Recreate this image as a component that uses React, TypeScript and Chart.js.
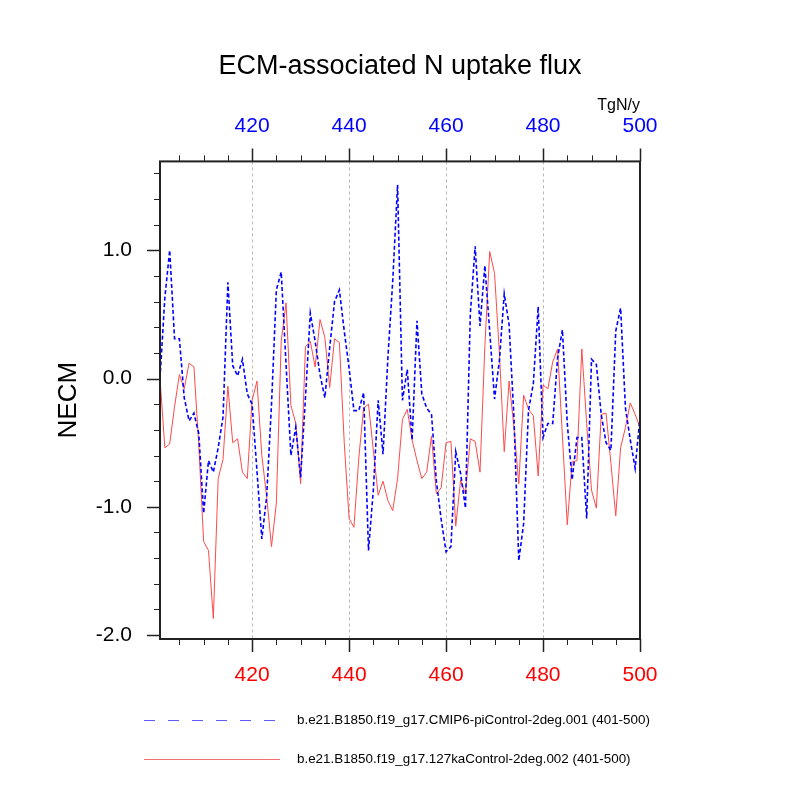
import React, { useEffect, useRef } from "react";
import { Chart, registerables } from "chart.js";

Chart.register(...registerables);

// ---------------- data ----------------
const years = [
  401, 402, 403, 404, 405, 406, 407, 408, 409, 410,
  411, 412, 413, 414, 415, 416, 417, 418, 419, 420,
  421, 422, 423, 424, 425, 426, 427, 428, 429, 430,
  431, 432, 433, 434, 435, 436, 437, 438, 439, 440,
  441, 442, 443, 444, 445, 446, 447, 448, 449, 450,
  451, 452, 453, 454, 455, 456, 457, 458, 459, 460,
  461, 462, 463, 464, 465, 466, 467, 468, 469, 470,
  471, 472, 473, 474, 475, 476, 477, 478, 479, 480,
  481, 482, 483, 484, 485, 486, 487, 488, 489, 490,
  491, 492, 493, 494, 495, 496, 497, 498, 499, 500,
];

const piControl = [
  0.0, 0.63, 1.0, 0.31, 0.31, -0.15, -0.33, -0.27, -0.43, -1.05,
  -0.64, -0.73, -0.54, -0.3, 0.75, 0.1, 0.02, 0.15, -0.12, -0.2,
  -0.72, -1.25, -0.92, -0.2, 0.69, 0.83, 0.11, -0.6, -0.38, -0.77,
  -0.15, 0.51, 0.29, 0.03, -0.15, 0.24, 0.6, 0.69, 0.37, 0.08,
  -0.25, -0.25, -0.11, -1.34, -0.87, -0.17, -0.59, 0.16, 0.76, 1.51,
  -0.17, 0.07, -0.48, 0.45, -0.12, -0.23, -0.28, -0.8, -1.1, -1.35,
  -1.31, -0.57, -0.74, -1.01, 0.5, 1.03, 0.41, 0.88, 0.37, -0.16,
  0.14, 0.66, 0.42, -0.3, -1.42, -1.13, -0.25, -0.04, 0.56, -0.46,
  -0.35, -0.35, 0.16, 0.38, -0.35, -0.79, -0.46, -0.46, -1.09, 0.15,
  0.11, -0.28, -0.5, -0.56, 0.37, 0.55, -0.23, -0.48, -0.7, -0.3,
];

const ka127Control = [
  0.0, -0.54, -0.51, -0.22, 0.03, -0.08, 0.12, 0.09, -0.52, -1.27,
  -1.34, -1.87, -0.78, -0.63, -0.06, -0.5, -0.47, -0.73, -0.78, -0.17,
  -0.02, -0.6, -0.92, -1.31, -0.97, 0.29, 0.59, -0.21, -0.35, -0.82,
  0.25, 0.29, 0.09, 0.46, 0.32, -0.07, 0.31, 0.28, -0.5, -1.09,
  -1.16, -0.62, -0.23, -0.2, -0.56, -0.91, -0.8, -0.95, -1.03, -0.78,
  -0.32, -0.24, -0.48, -0.64, -0.78, -0.73, -0.45, -0.9, -0.85, -0.5,
  -0.49, -1.15, -0.79, -0.9, -0.47, -0.49, -0.73, 0.25, 0.99, 0.82,
  0.2, -0.57, -0.02, -0.38, -0.82, -0.13, -0.24, -0.29, -0.76, -0.05,
  -0.08, 0.13, 0.23, -0.45, -1.14, -0.65, -0.64, 0.23, -0.35, -0.87,
  -1.01, -0.28, -0.27, -0.66, -1.07, -0.54, -0.38, -0.19, -0.28, -0.38,
];

const seriesLabels = [
  "b.e21.B1850.f19_g17.CMIP6-piControl-2deg.001 (401-500)",
  "b.e21.B1850.f19_g17.127kaControl-2deg.002 (401-500)",
];

const xMajorTicks = [420, 440, 460, 480, 500];
const xMinorTicks = [
  405, 410, 415, 420, 425, 430, 435, 440, 445, 450,
  455, 460, 465, 470, 475, 480, 485, 490, 495, 500,
];
const xGridLines = [420, 440, 460, 480];
const yMajorTicks = [-2.0, -1.0, 0.0, 1.0];
const yMinorTicks = [
  -2.0, -1.8, -1.6, -1.4, -1.2, -1.0, -0.8, -0.6, -0.4, -0.2,
  0.0, 0.2, 0.4, 0.6, 0.8, 1.0, 1.2, 1.4, 1.6,
];

const titleText = "ECM-associated N uptake flux";
const yTitle = "NECM";
const unitsText = "TgN/y";

// ---------------- styling ----------------
const FONT = "'Liberation Sans', Arial, Helvetica, sans-serif";
const BLUE = "#0000ff";
const RED = "#ff4a4a";

const nclDecor = {
  id: "nclDecor",
  beforeDatasetsDraw(chart: any) {
    const { ctx, chartArea } = chart;
    const xs = chart.scales.x;
    ctx.save();
    ctx.strokeStyle = "#b8b8b8";
    ctx.lineWidth = 1;
    ctx.setLineDash([3, 3]);
    for (const v of xGridLines) {
      const px = Math.round(xs.getPixelForValue(v)) + 0.5;
      ctx.beginPath();
      ctx.moveTo(px, chartArea.top);
      ctx.lineTo(px, chartArea.bottom);
      ctx.stroke();
    }
    ctx.restore();
  },
  afterDatasetsDraw(chart: any) {
    const { ctx, chartArea } = chart;
    const { left, right, top, bottom } = chartArea;
    const xs = chart.scales.x;
    const ys = chart.scales.y;
    ctx.save();
    ctx.strokeStyle = "#222";
    ctx.setLineDash([]);
    for (const v of xMinorTicks) {
      const major = xMajorTicks.includes(v);
      const len = major ? 13 : 6;
      const px = Math.round(xs.getPixelForValue(v)) + 0.5;
      ctx.lineWidth = major ? 1.5 : 1;
      ctx.beginPath();
      ctx.moveTo(px, top);
      ctx.lineTo(px, top - len);
      ctx.moveTo(px, bottom);
      ctx.lineTo(px, bottom + len);
      ctx.stroke();
    }
    for (const v of yMinorTicks) {
      const major = yMajorTicks.some((m) => Math.abs(m - v) < 1e-6);
      const len = major ? 13 : 6;
      const py = Math.round(ys.getPixelForValue(v)) + 0.5;
      ctx.lineWidth = major ? 1.5 : 1;
      ctx.beginPath();
      ctx.moveTo(left, py);
      ctx.lineTo(left - len, py);
      ctx.stroke();
    }
    ctx.lineWidth = 2;
    ctx.strokeRect(left, top, right - left, bottom - top);
    ctx.restore();
  },
  afterDraw(chart: any) {
    const { ctx } = chart;
    const rows = [
      { y: 720.5, x0: 144, x1: 276, dash: [11, 13], color: "#5c5cff" },
      { y: 759.5, x0: 144, x1: 280, dash: [], color: "#f07070" },
    ];
    ctx.save();
    chart.data.datasets.forEach((ds: any, i: number) => {
      const r = rows[i];
      ctx.strokeStyle = r.color;
      ctx.lineWidth = 1;
      ctx.setLineDash(r.dash);
      ctx.beginPath();
      ctx.moveTo(r.x0, r.y);
      ctx.lineTo(r.x1, r.y);
      ctx.stroke();
      ctx.setLineDash([]);
      ctx.fillStyle = "#000";
      ctx.font = `13.4px ${FONT}`;
      ctx.textBaseline = "middle";
      ctx.textAlign = "left";
      ctx.fillText(ds.label, 297, r.y);
    });
    ctx.restore();
  },
};

export default function App() {
  const canvasRef = useRef<HTMLCanvasElement | null>(null);

  useEffect(() => {
    if (!canvasRef.current) return;
    const chart = new Chart(canvasRef.current, {
      type: "line",
      data: {
        labels: years,
        datasets: [
          {
            label: seriesLabels[0],
            data: piControl,
            borderColor: BLUE,
            borderWidth: 1.6,
            borderDash: [4, 2.5],
            pointRadius: 0,
            fill: false,
            tension: 0,
          },
          {
            label: seriesLabels[1],
            data: ka127Control,
            borderColor: RED,
            borderWidth: 1,
            pointRadius: 0,
            fill: false,
            tension: 0,
          },
        ],
      },
      options: {
        animation: false,
        responsive: false,
        devicePixelRatio: 1,
        layout: { padding: 0 },
        plugins: {
          legend: { display: false },
          tooltip: { enabled: false },
          title: {
            display: true,
            text: titleText,
            color: "#000",
            font: { family: FONT, size: 27, weight: "normal" as any, lineHeight: 1.2 },
            padding: { top: 50, bottom: 0 },
          },
        },
        scales: {
          x: {
            type: "linear",
            position: "bottom",
            min: 401,
            max: 500,
            grid: { display: false, drawTicks: false },
            border: { display: false },
            afterBuildTicks: (s: any) => {
              s.ticks = xMajorTicks.map((v) => ({ value: v }));
            },
            afterFit: (s: any) => {
              s.height = 161;
            },
            ticks: {
              color: "#ff0000",
              font: { family: FONT, size: 21 },
              padding: 24,
              maxRotation: 0,
              autoSkip: false,
              callback: (v: any) => String(v),
            },
          },
          x2: {
            type: "linear",
            position: "top",
            min: 401,
            max: 500,
            grid: { display: false, drawTicks: false },
            border: { display: false },
            afterBuildTicks: (s: any) => {
              s.ticks = xMajorTicks.map((v) => ({ value: v }));
            },
            afterFit: (s: any) => {
              s.height = 79;
            },
            title: {
              display: true,
              text: unitsText,
              align: "end",
              color: "#000",
              font: { family: FONT, size: 16 },
              padding: { top: 14, bottom: 0 },
            },
            ticks: {
              color: "#0000ff",
              font: { family: FONT, size: 21 },
              padding: 23,
              maxRotation: 0,
              autoSkip: false,
              callback: (v: any) => String(v),
            },
          },
          y: {
            type: "linear",
            position: "left",
            min: -2.03,
            max: 1.692,
            grid: { display: false, drawTicks: false },
            border: { display: false },
            afterBuildTicks: (s: any) => {
              s.ticks = yMajorTicks.map((v) => ({ value: v }));
            },
            afterFit: (s: any) => {
              s.width = 160;
            },
            title: {
              display: true,
              text: yTitle,
              color: "#000",
              font: { family: FONT, size: 26 },
              padding: { top: 53, bottom: 0 },
            },
            ticks: {
              color: "#000",
              font: { family: FONT, size: 21 },
              padding: 28,
              autoSkip: false,
              callback: (v: any) => Number(v).toFixed(1),
            },
          },
          yRight: {
            type: "linear",
            position: "right",
            min: -2.03,
            max: 1.692,
            grid: { display: false, drawTicks: false },
            border: { display: false },
            ticks: { display: false },
            afterFit: (s: any) => {
              s.width = 160;
            },
          },
        },
      },
      plugins: [nclDecor],
    } as any);
    return () => chart.destroy();
  }, []);

  return (
    <div style={{ position: "absolute", left: 0, top: 0, width: 800, height: 800, background: "#fff" }}>
      <canvas ref={canvasRef} width={800} height={800} style={{ width: 800, height: 800, display: "block" }} />
    </div>
  );
}
